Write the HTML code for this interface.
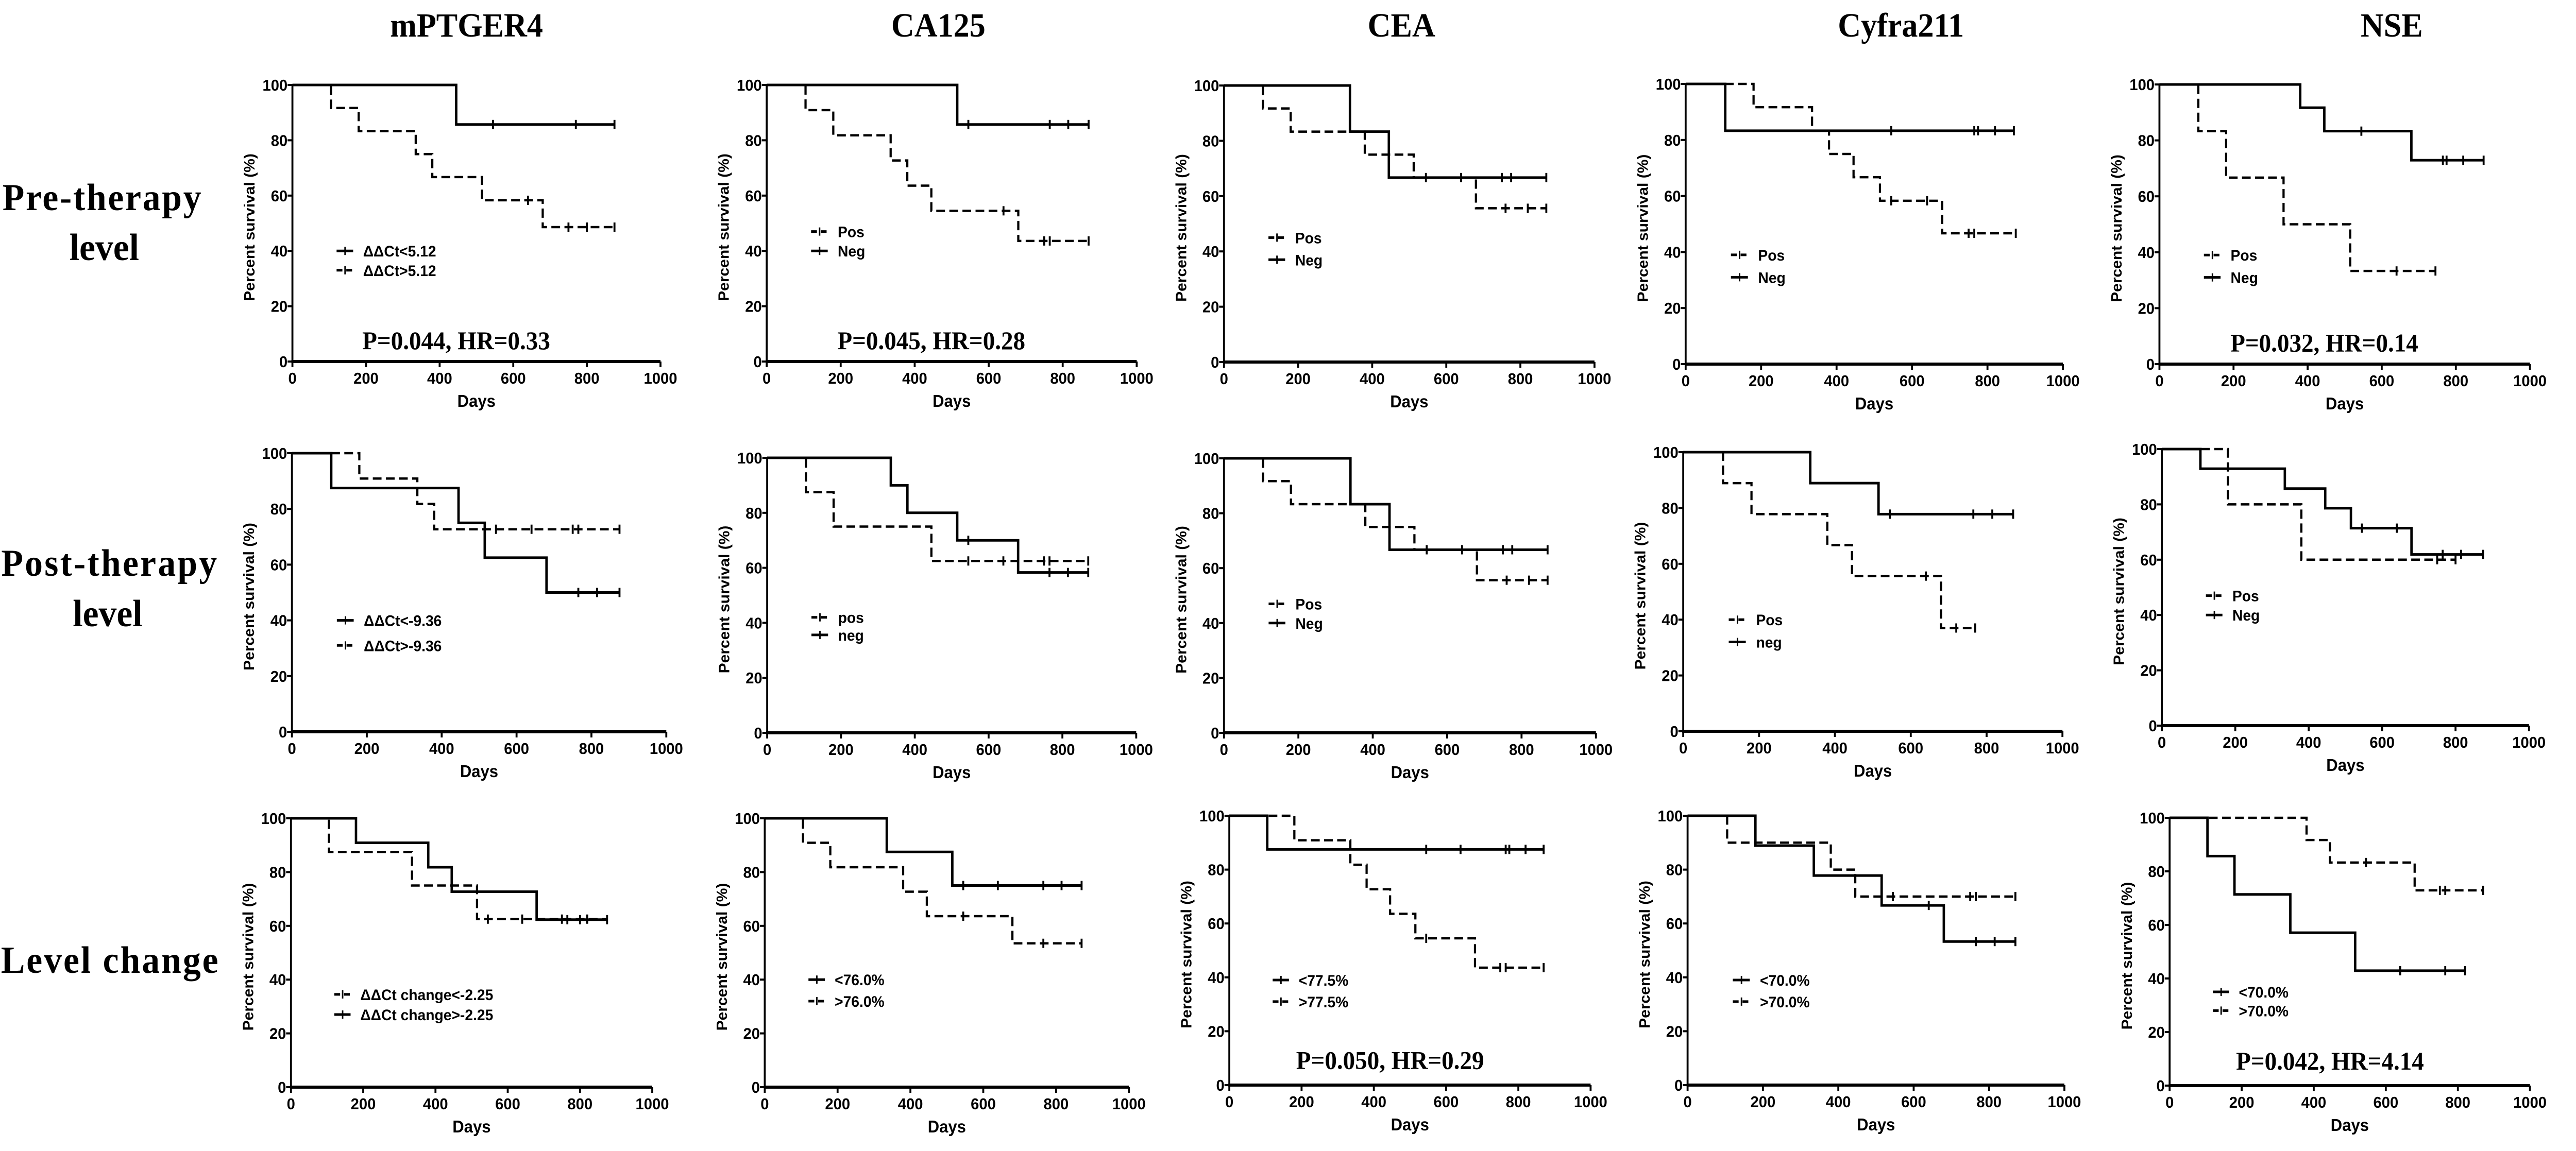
<!DOCTYPE html>
<html><head><meta charset="utf-8"><style>
html,body{margin:0;padding:0;background:#fff;overflow:hidden;width:100vw;height:100vh}
svg{display:block;width:100vw;height:100vh}
</style></head><body>
<svg id="fig" viewBox="0 0 5312 2235" preserveAspectRatio="none" xmlns="http://www.w3.org/2000/svg">
<g font-family="Liberation Serif, serif" font-weight="bold" font-size="66" text-anchor="middle">
<text x="962" y="71">mPTGER4</text>
<text x="1935" y="71">CA125</text>
<text x="2890" y="71">CEA</text>
<text x="3920" y="71">Cyfra211</text>
<text x="4932" y="71">NSE</text>
</g>
<g font-family="Liberation Serif, serif" font-weight="bold" font-size="74" text-anchor="middle">
<text x="210" y="408" textLength="410">Pre-therapy</text>
<text x="215" y="505">level</text>
<text x="225" y="1118" textLength="445">Post-therapy</text>
<text x="222" y="1216">level</text>
<text x="226" y="1889" textLength="448">Level change</text>
</g>
<g id="panels"></g>
</svg>
<script>
// ---- data: event days and survival (%) after each event, end of follow-up, censor days ----
// Row 1 (pre-therapy)
const r1c1_solid_t=[445], r1c1_solid_s=[85.7], r1c1_solid_end=875, r1c1_solid_c=[545,770,875];
const r1c1_dash_t=[105,180,335,380,515,680], r1c1_dash_s=[91.7,83.3,75,66.7,58.3,48.6], r1c1_dash_end=875, r1c1_dash_c=[640,750,800,875];
const r1c2_solid_t=[515], r1c2_solid_s=[85.7], r1c2_solid_end=870, r1c2_solid_c=[545,765,815,870];
const r1c2_dash_t=[105,180,335,380,445,680], r1c2_dash_s=[90.9,81.8,72.7,63.6,54.5,43.6], r1c2_dash_end=870, r1c2_dash_c=[640,750,765,870];
const r1c3_solid_t=[340,445], r1c3_solid_s=[83.3,66.7], r1c3_solid_end=870, r1c3_solid_c=[545,640,750,775,870];
const r1c3_dash_t=[105,180,380,512,680], r1c3_dash_s=[91.7,83.3,75,66.7,55.6], r1c3_dash_end=870, r1c3_dash_c=[760,820,870];
const r1c4_solid_t=[105], r1c4_solid_s=[83.3], r1c4_solid_end=870, r1c4_solid_c=[545,765,775,820,870];
const r1c4_dash_t=[180,335,380,445,515,680], r1c4_dash_s=[91.7,83.3,75,66.7,58.3,46.7], r1c4_dash_end=875, r1c4_dash_c=[545,640,750,765,875];
const r1c5_solid_t=[380,445,680], r1c5_solid_s=[91.7,83.3,72.9], r1c5_solid_end=875, r1c5_solid_c=[545,765,775,820,875];
const r1c5_dash_t=[105,180,335,515], r1c5_dash_s=[83.3,66.7,50,33.3], r1c5_dash_end=745, r1c5_dash_c=[640,745];
// Row 2 (post-therapy)
const r2c1_solid_t=[105,445,515,680], r2c1_solid_s=[87.5,75,62.5,50], r2c1_solid_end=875, r2c1_solid_c=[765,815,875];
const r2c1_dash_t=[180,335,380], r2c1_dash_s=[90.9,81.8,72.7], r2c1_dash_end=875, r2c1_dash_c=[545,640,750,765,875];
const r2c2_solid_t=[335,380,515,680], r2c2_solid_s=[90,80,70,58.3], r2c2_solid_end=870, r2c2_solid_c=[545,765,815,870];
const r2c2_dash_t=[105,180,445], r2c2_dash_s=[87.5,75,62.5], r2c2_dash_end=870, r2c2_dash_c=[545,640,750,765,870];
const r2c3_solid_t=[340,445], r2c3_solid_s=[83.3,66.7], r2c3_solid_end=870, r2c3_solid_c=[545,640,750,775,870];
const r2c3_dash_t=[105,180,380,512,680], r2c3_dash_s=[91.7,83.3,75,66.7,55.6], r2c3_dash_end=870, r2c3_dash_c=[760,820,870];
const r2c4_solid_t=[335,515], r2c4_solid_s=[88.9,77.8], r2c4_solid_end=870, r2c4_solid_c=[545,765,815,870];
const r2c4_dash_t=[105,180,380,445,680], r2c4_dash_s=[88.9,77.8,66.7,55.6,37], r2c4_dash_end=770, r2c4_dash_c=[640,720,770];
const r2c5_solid_t=[105,335,445,515,680], r2c5_solid_s=[92.9,85.7,78.6,71.4,61.9], r2c5_solid_end=875, r2c5_solid_c=[545,640,765,815,875];
const r2c5_dash_t=[180,380], r2c5_dash_s=[80,60], r2c5_dash_end=800, r2c5_dash_c=[750,800];
// Row 3 (level change)
const r3c1_solid_t=[180,380,445,680], r3c1_solid_s=[90.9,81.8,72.7,62.3], r3c1_solid_end=875, r3c1_solid_c=[765,800,875];
const r3c1_dash_t=[105,335,515], r3c1_dash_s=[87.5,75,62.5], r3c1_dash_end=875, r3c1_dash_c=[545,640,750,820];
const r3c2_solid_t=[335,515], r3c2_solid_s=[87.5,75], r3c2_solid_end=870, r3c2_solid_c=[545,640,765,815,870];
const r3c2_dash_t=[105,180,380,445,680], r3c2_dash_s=[90.9,81.8,72.7,63.6,53.5], r3c2_dash_end=870, r3c2_dash_c=[545,765,870];
const r3c3_solid_t=[105], r3c3_solid_s=[87.5], r3c3_solid_end=870, r3c3_solid_c=[545,640,765,775,820,870];
const r3c3_dash_t=[180,335,380,445,515,680], r3c3_dash_s=[90.9,81.8,72.7,63.6,54.5,43.6], r3c3_dash_end=870, r3c3_dash_c=[545,750,765,870];
const r3c4_solid_t=[180,335,515,680], r3c4_solid_s=[88.9,77.8,66.7,53.3], r3c4_solid_end=870, r3c4_solid_c=[640,765,815,870];
const r3c4_dash_t=[105,380,445], r3c4_dash_s=[90,80,70], r3c4_dash_end=870, r3c4_dash_c=[545,750,765,870];
const r3c5_solid_t=[105,180,335,515], r3c5_solid_s=[85.7,71.4,57.1,42.9], r3c5_solid_end=820, r3c5_solid_c=[640,765,820];
const r3c5_dash_t=[380,445,680], r3c5_dash_s=[91.7,83.3,72.9], r3c5_dash_end=870, r3c5_dash_c=[545,750,765,870];

const xTicks=[0,200,400,600,800,1000];
const yTicks=[0,20,40,60,80,100];

const legendLabels=[
 [["ΔΔCt<5.12","ΔΔCt>5.12"],["Pos","Neg"],["Pos","Neg"],["Pos","Neg"],["Pos","Neg"]],
 [["ΔΔCt<-9.36","ΔΔCt>-9.36"],["pos","neg"],["Pos","Neg"],["Pos","neg"],["Pos","Neg"]],
 [["ΔΔCt change<-2.25","ΔΔCt change>-2.25"],["<76.0%",">76.0%"],["<77.5%",">77.5%"],["<70.0%",">70.0%"],["<70.0%",">70.0%"]]
];
const legendFirstDashed=[[false,true,true,true,true],[false,true,true,true,true],[true,false,false,false,false]];
const legendY=[[[40,33],[47,40],[45,37],[39,31],[39,31]],[[40,31],[42,35.6],[47,40],[40,32],[47,40]],[[34.5,27],[40,32],[39,31],[39,31],[35,28]]];
const pTexts=[["P=0.044, HR=0.33","P=0.045, HR=0.28","","","P=0.032, HR=0.14"],["","","","",""],["","","P=0.050, HR=0.29","","P=0.042, HR=4.14"]];

const geom=[
 [[603,1362,165,702],[1581,2344,165,702],[2524,3288,166,703],[3476,4254,163,707],[4453,5217,164,707]],
 [[602,1374,880,1421],[1582,2343,889,1423],[2524,3291,890,1423],[3471,4253,878,1420],[4458,5215,872,1409]],
 [[600,1345,1589,2111],[1577,2328,1589,2111],[2535,3280,1584,2107],[3480,4257,1584,2107],[4474,5217,1588,2108]]
];
const NS='http://www.w3.org/2000/svg';
const root=document.getElementById('panels');
function mk(tag,attrs,parent){const e=document.createElementNS(NS,tag);for(const k in attrs)e.setAttribute(k,attrs[k]);parent.appendChild(e);return e;}
function series(r,c,kind){const p='r'+r+'c'+c+'_'+kind+'_';return {t:window.eval(p+'t'),s:window.eval(p+'s'),end:window.eval(p+'end'),c:window.eval(p+'c')};}

for(let r=0;r<3;r++)for(let c=0;c<5;c++){
 const [x0,x1,yt,yb]=geom[r][c];
 const X=d=>x0+(x1-x0)*d/1000, Y=v=>yb-(yb-yt)*v/100;
 const g=mk('g',{},root);
 
 
 const ax=mk('line',{x1:x0,y1:yt,x2:x0,y2:yb,stroke:'#000','stroke-width':4},g);
 
 
 const axx=mk('line',{x1:x0-2,y1:yb,x2:X(1000),y2:yb,stroke:'#000','stroke-width':6},g);
 
 
 xTicks.forEach(v=>{
  mk('line',{x1:X(v),y1:yb,x2:X(v),y2:yb+11,stroke:'#000','stroke-width':4},g);
  const t=mk('text',{x:X(v),y:yb+43,'text-anchor':'middle','font-family':'Liberation Sans, sans-serif','font-weight':'bold','font-size':31},g);
  
  
  t.textContent=v;
 });
 yTicks.forEach(v=>{
  mk('line',{x1:x0-10,y1:Y(v),x2:x0,y2:Y(v),stroke:'#000','stroke-width':4},g);
  const t=mk('text',{x:x0-10,y:Y(v)+11,'text-anchor':'end','font-family':'Liberation Sans, sans-serif','font-weight':'bold','font-size':31},g);
  
  
  t.textContent=v;
 });
 const yl=mk('text',{x:0,y:0,transform:`translate(${x0-78},${(yt+yb)/2+8}) rotate(-90)`,'text-anchor':'middle','font-family':'Liberation Sans, sans-serif','font-weight':'bold','font-size':30},g);
 
 
 yl.textContent='Percent survival (%)';
 const xl=mk('text',{x:X(500),y:yb+88,'text-anchor':'middle','font-family':'Liberation Sans, sans-serif','font-weight':'bold','font-size':33},g);
 
 
 xl.textContent='Days';
 ['solid','dash'].forEach(kind=>{
  const sd=series(r+1,c+1,kind);
  let d=`M${X(0)},${Y(100)}`;
  const surv=(day)=>{let v=100;for(let i=0;i<sd.t.length;i++)if(day>=sd.t[i])v=sd.s[i];return v;};
  for(let i=0;i<sd.t.length;i++){d+=` H${X(sd.t[i])} V${Y(sd.s[i])}`;}
  d+=` H${X(sd.end)}`;
  const p=mk('path',{d:d,fill:'none',stroke:'#000','stroke-width':kind==='solid'?5:4.5,'stroke-dasharray':kind==='solid'?'none':'18 9'},g);
  
  
  sd.c.forEach(cd=>{
   const m=mk('line',{x1:X(cd),y1:Y(surv(cd))-9,x2:X(cd),y2:Y(surv(cd))+9,stroke:'#000','stroke-width':4},g);
   
   
  });
 });
 for(let k=0;k<2;k++){
  const dashed=(k===0)===legendFirstDashed[r][c];
  const ly=Y(legendY[r][c][k]);
  const lm=mk('line',{x1:X(120),y1:ly,x2:X(165),y2:ly,stroke:'#000','stroke-width':5,'stroke-dasharray':dashed?'12 8':'none'},g);
  
  
  mk('line',{x1:X(143),y1:ly-8,x2:X(143),y2:ly+8,stroke:'#000','stroke-width':3},g);
  const lt=mk('text',{x:X(192),y:ly+11,'font-family':'Liberation Sans, sans-serif','font-weight':'bold','font-size':30},g);
  
  
  lt.textContent=legendLabels[r][c][k];
 }
 if(pTexts[r][c]){
  const pt=mk('text',{x:X(445),y:Y(r===0?4.5:6),'text-anchor':'middle','font-family':'Liberation Serif, serif','font-weight':'bold','font-size':50},g);
  
  
  pt.textContent=pTexts[r][c];
 }
}
</script>
</body></html>
